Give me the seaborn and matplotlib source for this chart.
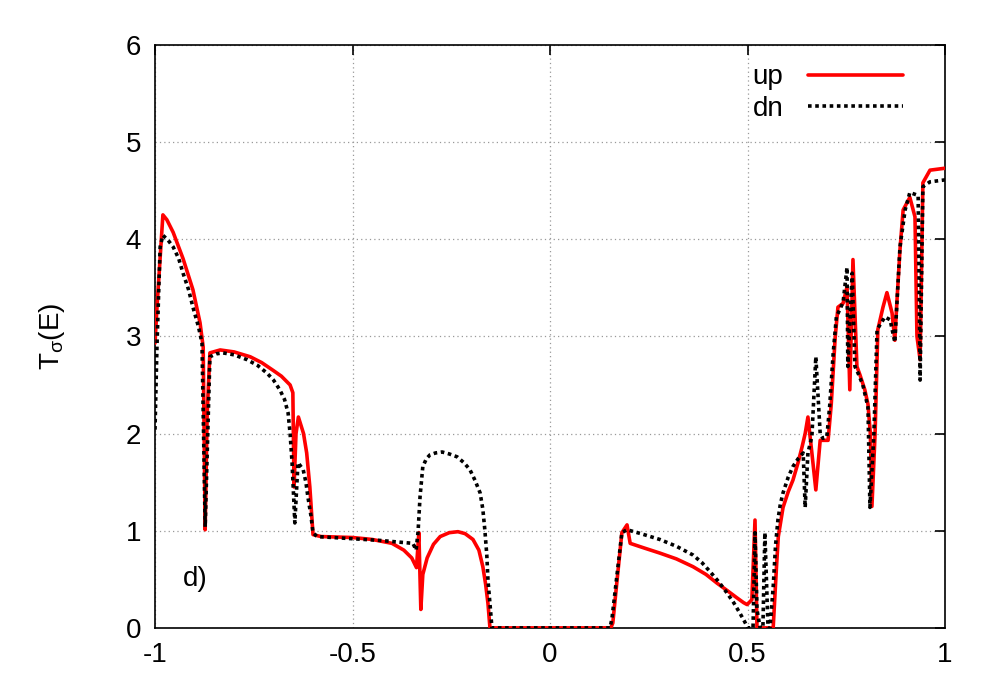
import matplotlib
matplotlib.use("Agg")
import matplotlib.pyplot as plt
import numpy as np
import pandas as pd
import seaborn as sns

# energy grid points for the two spin channels
e_up = [-1.0, -0.995, -0.980, -0.970, -0.954, -0.929, -0.904, -0.886, -0.878, -0.873,
        -0.868, -0.861, -0.835, -0.800, -0.759, -0.730, -0.701, -0.680, -0.658, -0.651,
        -0.648, -0.643, -0.637, -0.624, -0.616, -0.608, -0.600, -0.580, -0.500, -0.450,
        -0.400, -0.370, -0.350, -0.338, -0.332, -0.327, -0.322, -0.311, -0.295, -0.278,
        -0.255, -0.233, -0.215, -0.195, -0.180, -0.170, -0.163, -0.157, -0.152, 0.0,
        0.154, 0.159, 0.170, 0.182, 0.195, 0.203, 0.240, 0.278, 0.320, 0.362,
        0.395, 0.423, 0.450, 0.473, 0.490, 0.499, 0.511, 0.519, 0.524, 0.565,
        0.573, 0.578, 0.590, 0.603, 0.615, 0.628, 0.638, 0.646, 0.653, 0.663,
        0.673, 0.684, 0.704, 0.712, 0.722, 0.729, 0.742, 0.752, 0.759, 0.767,
        0.777, 0.785, 0.797, 0.805, 0.811, 0.815, 0.823, 0.830, 0.843, 0.853,
        0.866, 0.873, 0.878, 0.886, 0.894, 0.911, 0.924, 0.929, 0.937, 0.944,
        0.962, 1.0]
t_up = [2.93, 3.3, 4.25, 4.20, 4.07, 3.80, 3.48, 3.14, 2.89, 1.01,
        2.2, 2.83, 2.86, 2.84, 2.79, 2.73, 2.65, 2.59, 2.50, 2.42,
        1.45, 2.0, 2.17, 2.0, 1.80, 1.45, 0.96, 0.94, 0.93, 0.91,
        0.87, 0.80, 0.72, 0.62, 0.98, 0.19, 0.55, 0.72, 0.86, 0.94,
        0.98, 0.99, 0.97, 0.91, 0.80, 0.63, 0.45, 0.25, 0.0, 0.0,
        0.0, 0.05, 0.5, 0.98, 1.06, 0.87, 0.82, 0.77, 0.71, 0.63,
        0.55, 0.46, 0.38, 0.31, 0.26, 0.24, 0.29, 1.11, 0.0, 0.0,
        0.6, 0.94, 1.24, 1.40, 1.52, 1.70, 1.86, 2.00, 2.17, 1.80,
        1.42, 1.93, 1.93, 2.30, 2.99, 3.30, 3.34, 3.51, 2.45, 3.79,
        2.69, 2.60, 2.45, 2.30, 2.00, 1.25, 2.0, 3.07, 3.30, 3.45,
        3.24, 2.96, 3.34, 3.89, 4.30, 4.43, 4.23, 3.0, 2.76, 4.58,
        4.71, 4.73]

e_dn = [-1.0, -0.995, -0.987, -0.980, -0.967, -0.954, -0.940, -0.929, -0.915, -0.904,
        -0.890, -0.881, -0.873, -0.861, -0.845, -0.828, -0.800, -0.767, -0.740, -0.716,
        -0.700, -0.684, -0.672, -0.663, -0.658, -0.653, -0.646, -0.638, -0.625, -0.618,
        -0.613, -0.605, -0.600, -0.590, -0.430, -0.347, -0.339, -0.334, -0.329, -0.322,
        -0.313, -0.304, -0.290, -0.273, -0.255, -0.235, -0.218, -0.203, -0.190, -0.177,
        -0.170, -0.165, -0.160, -0.157, -0.152, -0.147, 0.0, 0.152, 0.157, 0.172,
        0.182, 0.195, 0.230, 0.278, 0.320, 0.362, 0.385, 0.405, 0.428, 0.448,
        0.465, 0.481, 0.492, 0.501, 0.514, 0.519, 0.524, 0.532, 0.539, 0.544,
        0.552, 0.557, 0.565, 0.571, 0.577, 0.583, 0.590, 0.603, 0.615, 0.628,
        0.641, 0.646, 0.653, 0.663, 0.673, 0.684, 0.691, 0.701, 0.708, 0.717,
        0.725, 0.742, 0.752, 0.754, 0.765, 0.772, 0.780, 0.792, 0.805, 0.810,
        0.820, 0.828, 0.848, 0.861, 0.873, 0.886, 0.899, 0.911, 0.932, 0.937,
        0.944, 0.962, 1.0]
t_dn = [2.04, 2.9, 3.92, 4.04, 3.99, 3.92, 3.80, 3.65, 3.48, 3.30,
        3.10, 2.93, 1.04, 2.79, 2.82, 2.83, 2.81, 2.76, 2.70, 2.62,
        2.55, 2.45, 2.35, 2.21, 2.00, 1.70, 1.08, 1.70, 1.63, 1.50,
        1.35, 1.15, 0.98, 0.94, 0.90, 0.87, 0.80, 0.99, 1.35, 1.66,
        1.74, 1.78, 1.80, 1.81, 1.79, 1.76, 1.70, 1.63, 1.52, 1.39,
        1.22, 1.01, 0.75, 0.49, 0.25, 0.0, 0.0, 0.0, 0.1, 0.63,
        0.98, 1.01, 0.97, 0.91, 0.84, 0.75, 0.67, 0.58, 0.47, 0.36,
        0.26, 0.15, 0.07, 0.0, 0.0, 0.98, 0.19, 0.0, 0.0, 0.98,
        0.0, 0.0, 0.42, 0.85, 1.11, 1.27, 1.39, 1.55, 1.66, 1.74,
        1.80, 1.24, 1.80, 1.97, 2.79, 2.00, 1.95, 1.97, 2.28, 2.83,
        3.20, 3.35, 3.71, 2.69, 3.65, 2.69, 2.62, 2.50, 2.27, 1.24,
        2.0, 3.07, 3.20, 3.17, 2.94, 3.92, 4.30, 4.48, 4.45, 2.55,
        4.54, 4.59, 4.61]

x_ticks = [-1, -0.5, 0, 0.5, 1]
x_tick_labels = ["-1", "-0.5", "0", "0.5", "1"]

df = pd.concat([
    pd.DataFrame({"E": e_up, "T": t_up, "spin": "up"}),
    pd.DataFrame({"E": e_dn, "T": t_dn, "spin": "dn"}),
])

sns.set_style("white")
plt.rcParams["font.family"] = ["Liberation Sans", "DejaVu Sans"]
plt.rcParams["mathtext.fontset"] = "custom"
plt.rcParams["mathtext.rm"] = "Liberation Sans"
plt.rcParams["mathtext.it"] = "Liberation Sans"
for key in ["text.color", "axes.labelcolor", "xtick.color", "ytick.color"]:
    plt.rcParams[key] = "black"

fig = plt.figure(figsize=(10, 7), dpi=100)
ax = fig.add_axes([0.155, 0.103, 0.79, 0.833])

sns.lineplot(data=df[df["spin"] == "up"], x="E", y="T", ax=ax, sort=False, estimator=None,
             color="#ff0000", linewidth=2.6, label="up", zorder=3)
sns.lineplot(data=df[df["spin"] == "dn"], x="E", y="T", ax=ax, sort=False, estimator=None,
             color="black", linewidth=2.6, linestyle=(0, (1, 1)), label="dn", zorder=4)

ax.set_xlim(-1, 1)
ax.set_ylim(0, 6)
ax.set_xticks(x_ticks)
ax.set_xticklabels(x_tick_labels)
ax.set_yticks(range(0, 7))
ax.tick_params(direction="in", length=7, width=1.2, top=True, right=True, labelsize=20, pad=10,
               colors="black")
ax.grid(True, color="#999999", linestyle=(0, (1, 2.5)), linewidth=0.9)
for s in ax.spines.values():
    s.set_color("black")
    s.set_linewidth(1.2)

ax.set_xlabel("")
ax.set_ylabel(r"T$_\sigma$(E)", fontsize=20, labelpad=42, color="black")
ax.text(-0.93, 0.5, "d)", fontsize=20, ha="left", va="center", color="black")

ax.legend(loc="upper right", bbox_to_anchor=(0.971, 1.0), frameon=False, markerfirst=False,
          fontsize=20, handlelength=3.4, handletextpad=0.9, labelspacing=0.2, borderaxespad=0.3,
          labelcolor="black")

fig.savefig("out.png", dpi=100)
